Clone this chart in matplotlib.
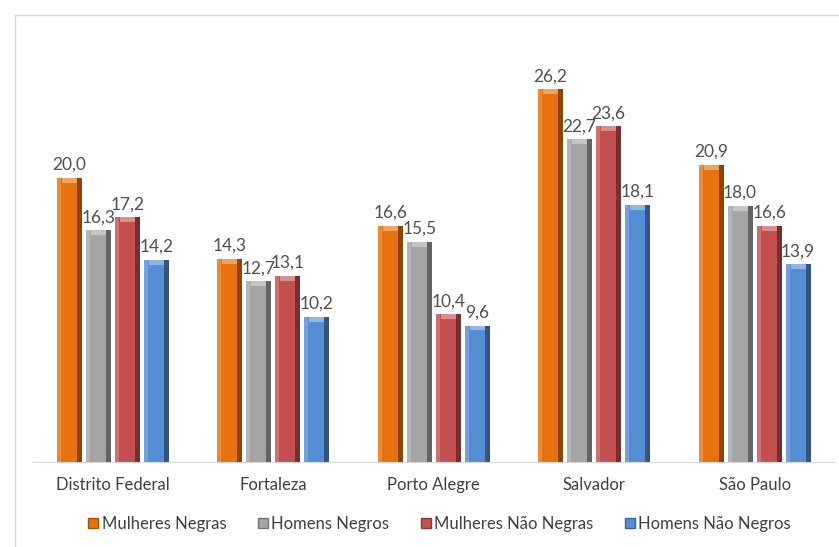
import numpy as np
import matplotlib
matplotlib.use("Agg")
import matplotlib.pyplot as plt
import matplotlib.colors as mcolors
from matplotlib.patches import Patch
from matplotlib.lines import Line2D

cidades = ["Distrito Federal", "Fortaleza", "Porto Alegre", "Salvador", "São Paulo"]
series = ["Mulheres Negras", "Homens Negros", "Mulheres Não Negras", "Homens Não Negros"]
mulheres_negras = [20.0, 14.3, 16.6, 26.2, 20.9]
homens_negros = [16.3, 12.7, 15.5, 22.7, 18.0]
mulheres_nao_negras = [17.2, 13.1, 10.4, 23.6, 16.6]
homens_nao_negros = [14.2, 10.2, 9.6, 18.1, 13.9]
valores = [mulheres_negras, homens_negros, mulheres_nao_negras, homens_nao_negros]
cores = ["#E8730E", "#A5A5A5", "#C44F4F", "#558ED5"]

plt.rcParams['font.family'] = ['Lato', 'DejaVu Sans']

def mix(c, other, t):
    a = np.array(mcolors.to_rgb(c))
    b = np.array(mcolors.to_rgb(other))
    return tuple(a * (1 - t) + b * t)

fig = plt.figure(figsize=(8.39, 5.47), dpi=100)
ax = fig.add_axes([0.039, 0.1554, 0.956, 0.772])

x = np.arange(len(cidades))
passo = 0.181
larg = 0.156
for i, (vals, cor) in enumerate(zip(valores, cores)):
    pos = x + (i - 1.5) * passo
    ax.bar(pos, vals, width=larg, color=cor, zorder=2)
    # bevel: left highlight, right shadow, top cap
    ax.bar(pos - larg * 0.42, vals, width=larg * 0.16, color=mix(cor, "white", 0.18), zorder=3)
    ax.bar(pos + larg * 0.40, vals, width=larg * 0.20, color=mix(cor, "black", 0.40), zorder=3)
    ax.bar(pos, [0.35] * len(vals), bottom=np.array(vals) - 0.35, width=larg * 0.6,
           color=mix(cor, "white", 0.35), zorder=4)
    for xp, v in zip(pos, vals):
        ax.text(xp, v + 0.35, f"{v:.1f}".replace(".", ","), ha="center", va="bottom",
                fontsize=12.5, color="#505050", zorder=5)

ax.set_xlim(-0.5, 4.5)
ax.set_ylim(0, 29.7)
ax.set_yticks([])
ax.set_xticks(x)
ax.set_xticklabels(cidades, fontsize=12, color="#404040")
ax.tick_params(axis="x", length=0, pad=11)
for s in ["top", "right", "left"]:
    ax.spines[s].set_visible(False)
ax.spines["bottom"].set_color("#D9D9D9")

handles = [Patch(facecolor=c, edgecolor=mix(c, "black", 0.3)) for c in cores]
fig.legend(handles, series, loc="center", bbox_to_anchor=(0.524, 1 - 524 / 547), ncol=4,
           frameon=False, fontsize=12, handlelength=0.6, handleheight=0.6,
           handletextpad=0.2, columnspacing=1.9, labelcolor="#404040")

fig.add_artist(Line2D([15 / 839, 1], [1 - 15 / 547] * 2, color="#D9D9D9", lw=1))
fig.add_artist(Line2D([15 / 839] * 2, [0, 1 - 15 / 547], color="#D9D9D9", lw=1))

fig.savefig("out.png", dpi=100)
